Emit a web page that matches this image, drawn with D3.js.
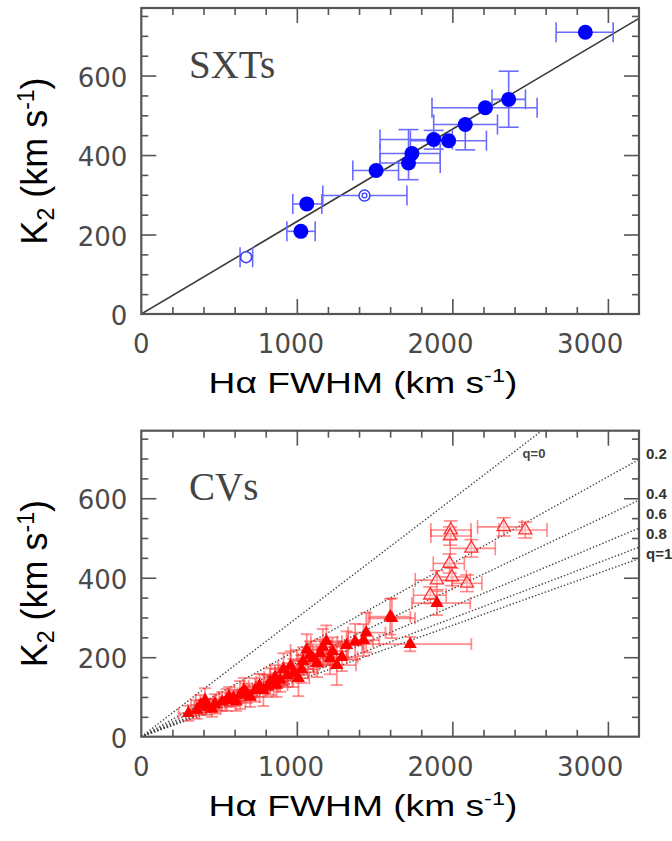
<!DOCTYPE html>
<html>
<head>
<meta charset="utf-8">
<script src="https://cdn.jsdelivr.net/npm/d3@7"></script>
<style>
body { margin: 0; background: #fff; }
</style>
</head>
<body>
<svg id="chart" width="672" height="841"></svg>
<script>
// ---- data ----
var xTicks = [0, 1000, 2000, 3000];
var yTicks = [0, 200, 400, 600];

// SXTs (blue)
var sxtFwhm   = [2855, 2362, 2212, 2083, 1976, 1880, 1740, 1718, 1510, 1435, 1064, 1026, 674];
var sxtK2     = [709, 540, 519, 477, 436, 439, 404, 380, 361, 298, 277, 208, 143];
var sxtFwhmLo = [2667, 2255, 1869, 1880, 1730, 1535, 1535, 1535, 1360, 1167, 974, 936, 635];
var sxtFwhmHi = [3034, 2470, 2545, 2290, 2219, 2000, 1922, 1922, 1654, 1708, 1161, 1118, 716];
var sxtK2Lo   = [null, 470, null, 413, null, 415, null, 338, null, null, null, null, null];
var sxtK2Hi   = [null, 611, null, null, null, 462, null, 464, null, null, null, null, null];
var sxtOpen   = [0, 0, 0, 0, 0, 0, 0, 0, 0, 1, 0, 0, 1];
var sxtSlope  = 0.2325;

// CVs (red) filled triangles
var cvFwhm   = [303, 356, 380, 410, 421, 455, 474, 520, 549, 565, 592, 610, 635, 660, 678, 700, 732, 760, 785, 810, 828, 860, 870, 893, 914, 940, 960, 978, 1010, 1030, 1040, 1064, 1085, 1103, 1130, 1150, 1167, 1190, 1214, 1230, 1257, 1290, 1320, 1375, 1429, 1446, 1600, 1611, 1729, 1901];
var cvK2     = [59, 67, 80, 92, 75, 70, 82, 88, 92, 100, 97, 88, 105, 118, 109, 100, 117, 128, 117, 126, 138, 150, 130, 143, 170, 155, 178, 160, 147, 170, 190, 218, 205, 197, 185, 210, 226, 240, 197, 215, 180, 200, 230, 239, 243, 262, 302, 298, 233, 336];
var cvFwhmLo = [240, 300, 320, 350, 340, 400, 410, 460, 480, 500, 540, 550, 560, 600, 620, 640, 660, 690, 720, 740, 740, 790, 800, 820, 830, 870, 880, 890, 940, 950, 960, 960, 1000, 1010, 1040, 1060, 1060, 1090, 1110, 1130, 1140, 1190, 1220, 1260, 1330, 1330, 1470, 1460, 1427, 1740];
var cvFwhmHi = [370, 410, 440, 470, 490, 510, 540, 580, 620, 630, 650, 670, 710, 720, 740, 760, 800, 830, 850, 880, 920, 930, 940, 970, 1000, 1010, 1040, 1070, 1080, 1110, 1120, 1170, 1170, 1200, 1220, 1240, 1280, 1290, 1320, 1330, 1380, 1390, 1420, 1490, 1530, 1570, 1730, 1760, 2122, 2115];
var cvK2Lo   = [40, 45, 55, 62, 55, 50, 58, 65, 65, 75, 77, 65, 70, 90, 85, 75, 88, 100, 77, 100, 105, 120, 100, 113, 130, 125, 140, 125, 102, 135, 155, 178, 170, 162, 150, 175, 181, 200, 157, 180, 130, 165, 195, 194, 203, 212, 257, 248, 215, 306];
var cvK2Hi   = [78, 92, 105, 122, 95, 95, 107, 112, 120, 125, 117, 112, 140, 148, 134, 125, 147, 158, 157, 155, 172, 180, 160, 173, 210, 185, 215, 195, 192, 205, 225, 258, 240, 232, 220, 245, 271, 280, 237, 250, 230, 235, 265, 284, 283, 312, 347, 348, 251, 366];

// CVs open triangles
var cvoFwhm   = [1990, 1985, 2330, 2469, 2122, 1982, 1901, 1997, 2094, 1858];
var cvoK2     = [520, 505, 528, 520, 474, 436, 394, 402, 386, 356];
var cvoFwhmLo = [1862, 1862, 2162, 2300, 1986, 1877, 1761, 1900, 2000, 1750];
var cvoFwhmHi = [2120, 2120, 2448, 2609, 2276, 2077, 2115, 2090, 2190, 1960];
var cvoK2Lo   = [497, 482, 505, 500, 452, 412, 370, 380, 365, 335];
var cvoK2Hi   = [543, 528, 551, 540, 496, 460, 418, 424, 407, 377];

// q lines (K2 = slope * FWHM)
var qLabels = ["q=0", "0.2", "0.4", "0.6", "0.8", "q=1"];
var qSlopes = [0.299, 0.218, 0.186, 0.164, 0.149, 0.140];

// ---- layout ----
var svg = d3.select("#chart");
var left = 141.3, right = 639;
var panels = [
    { top: 8, bottom: 314, name: "SXTs" },
    { top: 430.7, bottom: 736.7, name: "CVs" }
];

function makeScales(p) {
    var x = d3.scaleLinear().domain([0, 3200]).range([left, right]);
    var y = d3.scaleLinear().domain([0, 770]).range([p.bottom, p.top]);
    return { x: x, y: y };
}

function drawFrame(g, s) {
    var x = s.x, y = s.y;
    var xMinor = d3.range(200, 3200, 200).filter(function (v) { return v % 1000; });
    var yMinor = d3.range(50, 770, 50).filter(function (v) { return v % 200; });
    var xMajor = [1000, 2000, 3000], yMajor = [200, 400, 600];

    function tidy(a) {
        a.select(".domain").remove();
        a.selectAll("line").attr("stroke", "#555").attr("stroke-width", 1.6);
    }
    var y0 = y.range()[0], y1 = y.range()[1];
    [[xMinor, 7], [xMajor, 15]].forEach(function (t) {
        g.append("g").attr("transform", "translate(0," + y0 + ")")
            .call(d3.axisBottom(x).tickValues(t[0]).tickSize(-t[1]).tickFormat("")).call(tidy);
        g.append("g").attr("transform", "translate(0," + y1 + ")")
            .call(d3.axisTop(x).tickValues(t[0]).tickSize(-t[1]).tickFormat("")).call(tidy);
    });
    [[yMinor, 7], [yMajor, 15]].forEach(function (t) {
        g.append("g").attr("transform", "translate(" + left + ",0)")
            .call(d3.axisLeft(y).tickValues(t[0]).tickSize(-t[1]).tickFormat("")).call(tidy);
        g.append("g").attr("transform", "translate(" + right + ",0)")
            .call(d3.axisRight(y).tickValues(t[0]).tickSize(-t[1]).tickFormat("")).call(tidy);
    });

    g.append("rect")
        .attr("x", left).attr("y", y1)
        .attr("width", right - left).attr("height", y0 - y1)
        .attr("fill", "none").attr("stroke", "#555").attr("stroke-width", 2.2);

    // tick labels
    g.selectAll(".xl").data(xTicks).enter().append("text")
        .attr("x", function (d) { return x(d) - d * 0.0059; })
        .attr("y", y0 + 39)
        .attr("text-anchor", "middle")
        .attr("font-family", "DejaVu Sans")
        .attr("font-size", 26)
        .attr("fill", "#4a4a4a")
        .text(function (d) { return d; });
    g.selectAll(".yl").data(yTicks).enter().append("text")
        .attr("x", left - 14)
        .attr("y", function (d) { return y(d) + 11; })
        .attr("text-anchor", "end")
        .attr("font-family", "DejaVu Sans")
        .attr("font-size", 26)
        .attr("fill", "#4a4a4a")
        .text(function (d) { return d; });

    // axis titles
    var xt = g.append("text")
        .attr("transform", "translate(363," + (y0 + 79) + ") scale(1.24,1)")
        .attr("text-anchor", "middle")
        .attr("font-family", "Liberation Sans")
        .attr("font-size", 30)
        .attr("fill", "#000");
    xt.append("tspan").text("H\u03b1 FWHM (km s");
    xt.append("tspan").attr("dy", -11).attr("font-size", 19).text("-1");
    xt.append("tspan").attr("dy", 11).text(")");

    var yt = g.append("text")
        .attr("transform", "translate(47," + ((y0 + y1) / 2) + ") rotate(-90)")
        .attr("text-anchor", "middle")
        .attr("font-family", "Liberation Sans")
        .attr("font-size", 36)
        .attr("fill", "#000");
    yt.append("tspan").text("K");
    yt.append("tspan").attr("dy", 7).attr("font-size", 23).text("2");
    yt.append("tspan").attr("dy", -7).text(" (km s");
    yt.append("tspan").attr("dy", -13).attr("font-size", 23).text("-1");
    yt.append("tspan").attr("dy", 13).text(")");
}

function drawErrors(g, s, fx, fy, xlo, xhi, ylo, yhi, color, cap, width) {
    var x = s.x, y = s.y;
    fx.forEach(function (v, i) {
        var px = x(v), py = y(fy[i]);
        if (xlo[i] != null) {
            g.append("line").attr("x1", x(xlo[i])).attr("x2", x(xhi[i])).attr("y1", py).attr("y2", py);
            g.append("line").attr("x1", x(xlo[i])).attr("x2", x(xlo[i])).attr("y1", py - cap).attr("y2", py + cap);
            g.append("line").attr("x1", x(xhi[i])).attr("x2", x(xhi[i])).attr("y1", py - cap).attr("y2", py + cap);
        }
        var lo = ylo[i], hi = yhi[i];
        if (lo != null || hi != null) {
            var a = lo != null ? lo : fy[i], b = hi != null ? hi : fy[i];
            g.append("line").attr("x1", px).attr("x2", px).attr("y1", y(a)).attr("y2", y(b));
            if (lo != null) g.append("line").attr("x1", px - cap).attr("x2", px + cap).attr("y1", y(lo)).attr("y2", y(lo));
            if (hi != null) g.append("line").attr("x1", px - cap).attr("x2", px + cap).attr("y1", y(hi)).attr("y2", y(hi));
        }
    });
    g.selectAll("line").attr("stroke", color).attr("stroke-width", width);
}

// ---- top panel: SXTs ----
(function () {
    var p = panels[0], s = makeScales(p);
    var g = svg.append("g");
    var clipId = "clipTop";
    svg.append("clipPath").attr("id", clipId).append("rect")
        .attr("x", left).attr("y", p.top).attr("width", right - left).attr("height", p.bottom - p.top);

    g.append("line")
        .attr("clip-path", "url(#" + clipId + ")")
        .attr("x1", s.x(0)).attr("y1", s.y(0))
        .attr("x2", s.x(3200)).attr("y2", s.y(3200 * sxtSlope))
        .attr("stroke", "#3a3a3a").attr("stroke-width", 1.6);

    drawErrors(g.append("g"), s, sxtFwhm, sxtK2, sxtFwhmLo, sxtFwhmHi, sxtK2Lo, sxtK2Hi, "#6b6bff", 10, 1.6);

    var pts = g.append("g");
    sxtFwhm.forEach(function (v, i) {
        var cx = s.x(v), cy = s.y(sxtK2[i]);
        if (sxtOpen[i]) {
            pts.append("circle").attr("cx", cx).attr("cy", cy).attr("r", 5.5)
                .attr("fill", "#fff").attr("stroke", "#3a3aff").attr("stroke-width", 1.5);
            if (i === 9) pts.append("circle").attr("cx", cx).attr("cy", cy).attr("r", 2.4)
                .attr("fill", "none").attr("stroke", "#3a3aff").attr("stroke-width", 1.2);
        } else {
            pts.append("circle").attr("cx", cx).attr("cy", cy).attr("r", 7.5).attr("fill", "#0000ff");
        }
    });

    g.append("text").attr("x", 189).attr("y", 78)
        .attr("font-family", "Liberation Serif").attr("font-size", 39)
        .attr("fill", "#444").text(p.name);

    drawFrame(svg.append("g"), s);
})();

// ---- bottom panel: CVs ----
(function () {
    var p = panels[1], s = makeScales(p);
    var g = svg.append("g");
    var clipId = "clipBot";
    svg.append("clipPath").attr("id", clipId).append("rect")
        .attr("x", left).attr("y", p.top).attr("width", right - left).attr("height", p.bottom - p.top);

    var lines = g.append("g").attr("clip-path", "url(#" + clipId + ")");
    qSlopes.forEach(function (k) {
        lines.append("line")
            .attr("x1", s.x(0)).attr("y1", s.y(0))
            .attr("x2", s.x(3200)).attr("y2", s.y(3200 * k))
            .attr("stroke", "#444").attr("stroke-width", 1.4)
            .attr("stroke-dasharray", "1.4,2");
    });

    drawErrors(g.append("g"), s, cvFwhm, cvK2, cvFwhmLo, cvFwhmHi, cvK2Lo, cvK2Hi, "rgba(255,50,50,0.55)", 6, 1.8);
    drawErrors(g.append("g"), s, cvoFwhm, cvoK2, cvoFwhmLo, cvoFwhmHi, cvoK2Lo, cvoK2Hi, "rgba(255,60,60,0.6)", 7, 1.6);

    var tri = d3.symbol().type(d3.symbolTriangle).size(75);
    g.append("g").selectAll("path").data(cvoFwhm).enter().append("path")
        .attr("d", tri)
        .attr("transform", function (d, i) { return "translate(" + s.x(d) + "," + s.y(cvoK2[i]) + ")"; })
        .attr("fill", "rgba(255,220,220,0.6)").attr("stroke", "#ff3030").attr("stroke-width", 1.3);
    g.append("g").selectAll("path").data(cvFwhm).enter().append("path")
        .attr("d", tri)
        .attr("transform", function (d, i) { return "translate(" + s.x(d) + "," + s.y(cvK2[i]) + ")"; })
        .attr("fill", "#ff0000");

    g.append("text").attr("x", 189).attr("y", 500)
        .attr("font-family", "Liberation Serif").attr("font-size", 39)
        .attr("fill", "#444").text(p.name);

    // q labels: q=0 inside the frame, the rest along the right side
    g.append("text").attr("x", 534).attr("y", 458).attr("text-anchor", "middle")
        .attr("font-family", "Liberation Sans").attr("font-size", 13).attr("font-weight", "bold")
        .attr("fill", "#444").text(qLabels[0]);
    var rightLabelY = [453, 493, 513, 533, 553];
    qLabels.slice(1).forEach(function (t, i) {
        g.append("text").attr("x", 646).attr("y", rightLabelY[i] + 5.5)
            .attr("font-family", "Liberation Sans").attr("font-size", 15).attr("font-weight", "bold")
            .attr("fill", "#333").text(t);
    });

    drawFrame(svg.append("g"), s);
})();
</script>
</body>
</html>
